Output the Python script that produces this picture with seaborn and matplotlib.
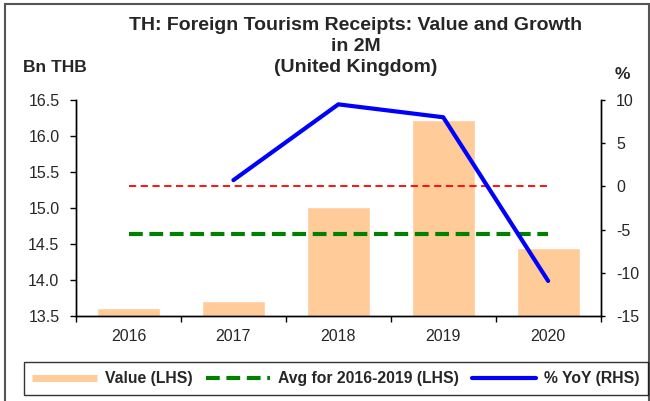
import numpy as np
import pandas as pd
import seaborn as sns
import matplotlib.pyplot as plt
from matplotlib.lines import Line2D
from matplotlib.patches import Rectangle

years = ["2016", "2017", "2018", "2019", "2020"]
value_bn = [13.62, 13.72, 15.02, 16.22, 14.45]
yoy_pct = [np.nan, 0.73, 9.48, 7.99, -10.91]
avg_years = ["2016", "2017", "2018", "2019"]

sns.set_style("white")
plt.rcParams["font.family"] = ["Liberation Sans", "DejaVu Sans"]
plt.rcParams["axes.unicode_minus"] = False

df = pd.DataFrame({"year": years, "value": value_bn, "yoy": yoy_pct})
avg_val = df[df["year"].isin(avg_years)]["value"].mean()
pos = np.arange(len(years))

green_dash = (0, (3.3, 1.6))

fig = plt.figure(figsize=(6.5, 4.01), dpi=100)
ax = fig.add_axes([0.117, 0.211, 0.807, 0.540])

sns.barplot(data=df, x="year", y="value", color="#FFCC99", saturation=1,
            width=0.6, ax=ax)
ax.plot(pos, [avg_val] * len(pos), color="#008000", lw=3, ls=green_dash)
ax.set_ylim(13.5, 16.5)
ticks_l = np.arange(13.5, 16.51, 0.5)
ax.set_yticks(ticks_l)
ax.set_yticklabels([f"{v:.1f}" for v in ticks_l])
ax.set_xlim(-0.5, len(years) - 0.5)
ax.set_xlabel("")
ax.set_ylabel("")

ax2 = ax.twinx()
ax2.plot(pos, [0] * len(pos), color="red", lw=1.3, ls=(0, (4, 2.5)))
ax2.plot(pos, df["yoy"], color="#0000FF", lw=3)
ax2.set_ylim(-15, 10)
ax2.set_yticks(np.arange(-15, 11, 5))

# x ticks: small marks at category boundaries, labels centred
ax.set_xticks(np.arange(-0.5, len(years), 1.0))
ax.set_xticklabels([""] * (len(years) + 1))
ax.set_xticks(pos, minor=True)
ax.set_xticklabels(years, minor=True)
ax.tick_params(axis="x", which="minor", length=0, pad=9, labelsize=11.5)
ax.tick_params(axis="x", which="major", length=4, width=1, direction="out",
               color="black", bottom=True)
ax.tick_params(axis="y", length=4, width=1, direction="out", left=True,
               color="black", labelsize=11.5, pad=8)
ax2.tick_params(axis="y", length=3, width=1, direction="out", right=True,
                color="black", labelsize=11.5, pad=8)

for a in (ax, ax2):
    a.spines["top"].set_visible(False)
    for s in ("left", "right", "bottom"):
        a.spines[s].set_color("black")
        a.spines[s].set_linewidth(1)

title_lines = ["TH: Foreign Tourism Receipts: Value and Growth", "in 2M", "(United Kingdom)"]
for i, line in enumerate(title_lines):
    fig.text(0.547, 1 - (25 + 21.5 * i) / 401, line, ha="center", va="center",
             fontsize=14, fontweight="bold")
fig.text(0.035, 0.832, "Bn THB", ha="left", va="center", fontsize=12.5, fontweight="bold")
fig.text(0.958, 0.815, "%", ha="center", va="center", fontsize=12.5, fontweight="bold")

handles = [
    Line2D([], [], color="#FFCC99", lw=5, solid_capstyle="butt"),
    Line2D([], [], color="#008000", lw=3, ls=green_dash),
    Line2D([], [], color="#0000FF", lw=3),
]
labels = ["Value (LHS)", "Avg for 2016-2019 (LHS)", "% YoY (RHS)"]
leg = fig.legend(handles, labels, loc="center", bbox_to_anchor=(0.517, 0.056),
                 ncol=3, frameon=True, fancybox=False, edgecolor="black",
                 handlelength=4.1, columnspacing=0.85, handletextpad=0.5,
                 prop={"weight": "bold", "size": 11.3}, borderpad=0.55)
leg.get_frame().set_linewidth(1)

fig.patches.append(Rectangle((0.008, -0.01), 0.99, 1.0, transform=fig.transFigure,
                             fill=False, edgecolor="#555555", lw=1.5))

fig.savefig("out.png", dpi=100)
